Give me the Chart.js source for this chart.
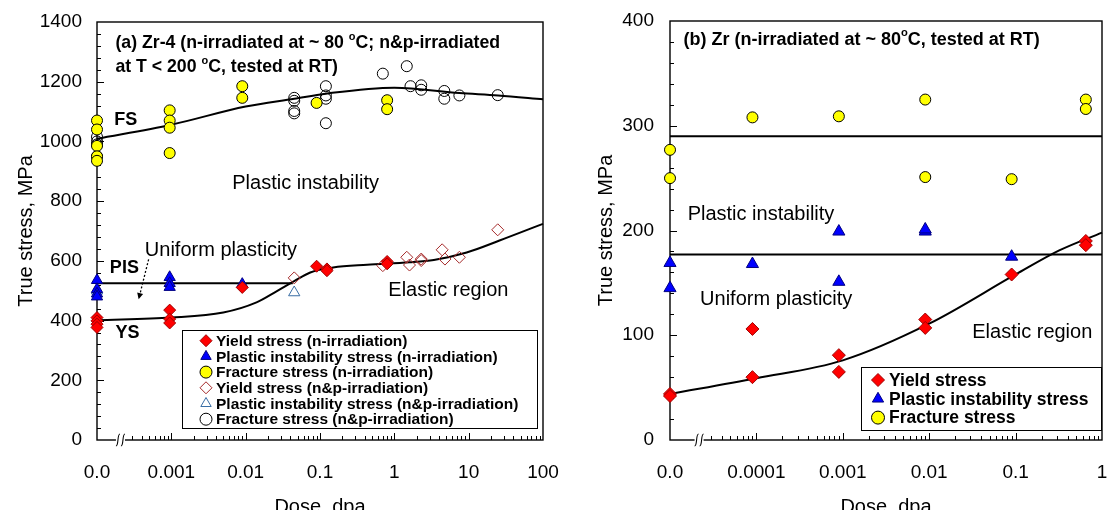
<!DOCTYPE html>
<html>
<head>
<meta charset="utf-8">
<script src="https://cdn.jsdelivr.net/npm/chart.js@4.4.1/dist/chart.umd.min.js"></script>
<style>
  html, body { margin: 0; padding: 0; background: #fff; }
  #wrap { position: relative; width: 1110px; height: 510px; overflow: hidden; }
  #chartA { position: absolute; left: 0; top: 0; }
  #chartB { position: absolute; left: 560px; top: 0; }
</style>
</head>
<body>
<div id="wrap">
  <canvas id="chartA" width="560" height="510"></canvas>
  <canvas id="chartB" width="550" height="510"></canvas>
</div>
<script>
const FONT = "'Liberation Sans', Arial, Helvetica, sans-serif";

// ---------- panel (a): Zr-4 ----------
// dose 0 is plotted at the "0.0" position of the broken log axis
const aZeroDose = 0.0001;
const aTickValues = [0.0001, 0.001, 0.01, 0.1, 1, 10, 100];
const aTickLabels = ['0.0', '0.001', '0.01', '0.1', '1', '10', '100'];

const aYsNDose = [0, 0, 0, 0, 0.00095, 0.00095, 0.00095, 0.009, 0.09, 0.124, 0.124, 0.8, 0.8];
const aYsNStress = [410, 399, 388, 377, 435, 405, 392, 511, 582, 573, 567, 598, 590];

const aPisNDose = [0, 0, 0, 0, 0.00095, 0.00095, 0.00095, 0.009];
const aPisNStress = [535, 505, 490, 480, 545, 525, 512, 522];

const aFsNDose = [0, 0, 0, 0, 0, 0.00095, 0.00095, 0.00095, 0.00095, 0.009, 0.009, 0.09, 0.8, 0.8];
const aFsNStress = [1070, 1040, 985, 950, 935, 1104, 1070, 1046, 961, 1185, 1146, 1129, 1138, 1108];

const aYsNPDose = [0.045, 0.7, 1.47, 1.6, 2.3, 2.3, 4.4, 4.8, 7.5, 24.6];
const aYsNPStress = [543, 584, 612, 586, 606, 601, 637, 606, 612, 704];

const aPisNPDose = [0, 0.045];
const aPisNPStress = [500, 494];

const aFsNPDose = [0, 0, 0, 0, 0.045, 0.045, 0.045, 0.045, 0.12, 0.12, 0.12, 0.12, 0.7, 1.47, 1.65, 2.3, 2.3, 4.7, 4.7, 7.5, 24.6];
const aFsNPStress = [1015, 1000, 990, 950, 1146, 1136, 1102, 1094, 1185, 1154, 1143, 1061, 1227, 1252, 1185, 1188, 1173, 1169, 1143, 1154, 1155];

// fitted curves
const aFsFitDose = [0.0001, 0.001, 0.01, 0.045, 0.12, 1, 7.5, 25, 100];
const aFsFitStress = [1009, 1056, 1117, 1143, 1160, 1180, 1162, 1154, 1141];
const aYsFitDose = [0.0001, 0.001, 0.005, 0.014, 0.026, 0.045, 0.074, 0.15, 0.43, 1.6, 3.4, 9.4, 26, 100];
const aYsFitStress = [401, 410, 427, 461, 498, 532, 561, 578, 587, 595, 603, 628, 668, 724];
const aPisFitDose = [0.0001, 0.043];
const aPisFitStress = [525, 525];

// ---------- panel (b): Zr ----------
const bZeroDose = 0.00001;
const bTickValues = [0.00001, 0.0001, 0.001, 0.01, 0.1, 1];
const bTickLabels = ['0.0', '0.0001', '0.001', '0.01', '0.1', '1'];

const bYsDose = [0, 0, 0.00009, 0.00009, 0.0009, 0.0009, 0.009, 0.009, 0.09, 0.65, 0.65];
const bYsStress = [44, 42, 106, 60, 81, 65, 115, 107, 158, 190, 186];

const bPisDose = [0, 0, 0.00009, 0.0009, 0.0009, 0.009, 0.009, 0.09];
const bPisStress = [169, 145, 168, 199, 151, 199, 201, 175];

const bFsDose = [0, 0, 0.00009, 0.0009, 0.009, 0.009, 0.09, 0.65, 0.65];
const bFsStress = [277, 250, 308, 309, 325, 251, 249, 325, 316];

const bYsFitDose = [0.00001, 0.0001, 0.001, 0.01, 0.1, 0.32, 1];
const bYsFitStress = [44, 59, 76, 111, 158, 181, 198];
const bFsFitDose = [0.00001, 1];
const bFsFitStress = [290, 290];
const bPisFitDose = [0.00001, 1];
const bPisFitStress = [177, 177];

function pts(doses, stresses, zero) {
  return doses.map((d, i) => ({ x: d === 0 ? zero : d, y: stresses[i] }));
}

function marks(label, data, style, radius, fill, stroke) {
  return {
    label, data, showLine: false, clip: false,
    pointStyle: style, pointRadius: radius, pointHoverRadius: radius,
    backgroundColor: fill, borderColor: stroke, pointBorderWidth: 1
  };
}

function curve(data) {
  return {
    data, showLine: true, clip: false, pointRadius: 0,
    borderColor: '#000', borderWidth: 2, fill: false,
    cubicInterpolationMode: 'monotone', legendSkip: true
  };
}

function markerPath(ctx, style, x, y, r) {
  ctx.beginPath();
  if (style === 'circle') {
    ctx.arc(x, y, r, 0, Math.PI * 2);
  } else if (style === 'rectRot') {
    ctx.moveTo(x, y - r); ctx.lineTo(x + r, y); ctx.lineTo(x, y + r); ctx.lineTo(x - r, y); ctx.closePath();
  } else {
    const s = Math.sin(Math.PI / 3) * r;
    ctx.moveTo(x, y - r); ctx.lineTo(x + s, y + r / 2); ctx.lineTo(x - s, y + r / 2); ctx.closePath();
  }
}

function drawRuns(ctx, runs, x, y, size, bold) {
  let cx = x;
  runs.forEach(([t, sup]) => {
    const fs = sup ? size * 0.62 : size;
    ctx.font = (bold ? 'bold ' : '') + fs + 'px ' + FONT;
    ctx.fillText(t, cx, sup ? y - size * 0.36 : y);
    cx += ctx.measureText(t).width;
  });
}

function noPad(scale) {
  scale.paddingLeft = 0;
  scale.paddingRight = 0;
  scale.paddingTop = 0;
  scale.paddingBottom = 0;
}

function decor(cfg) {
  return {
    id: 'decor',
    beforeDatasetsDraw(chart) {
      const { ctx, chartArea: a, scales: { x, y } } = chart;
      ctx.save();
      ctx.strokeStyle = '#000';
      ctx.lineWidth = 1.4;
      ctx.strokeRect(a.left, a.top, a.right - a.left, a.bottom - a.top);
      ctx.lineWidth = 1;
      ctx.beginPath();
      for (let v = y.min + cfg.yMinor; v < y.max; v += cfg.yMinor) {
        const py = Math.round(y.getPixelForValue(v)) + 0.5;
        const len = v % cfg.yMajor === 0 ? 7 : 4;
        ctx.moveTo(a.left, py); ctx.lineTo(a.left + len, py);
      }
      const breakX = x.getPixelForValue(cfg.breakDose);
      const e0 = Math.round(Math.log10(x.min));
      const e1 = Math.round(Math.log10(x.max));
      for (let e = e0; e <= e1; e++) {
        for (let m = 1; m < 10; m++) {
          const v = m * Math.pow(10, e);
          if (v > x.max * 1.0001) break;
          const px = Math.round(x.getPixelForValue(v)) + 0.5;
          if (px < breakX + 5 || px > a.right - 1) continue;
          const len = m === 1 ? 7 : 4;
          ctx.moveTo(px, a.bottom); ctx.lineTo(px, a.bottom - len);
        }
      }
      ctx.stroke();
      // axis break
      ctx.fillStyle = '#fff';
      ctx.fillRect(breakX - 5, a.bottom - 2, 9, 4);
      ctx.lineWidth = 1.1;
      [-3, 2].forEach((dx) => {
        const bx = breakX + dx;
        ctx.beginPath();
        ctx.moveTo(bx - 2, a.bottom + 6);
        ctx.bezierCurveTo(bx + 1, a.bottom + 6, bx - 1, a.bottom - 6, bx + 2, a.bottom - 6);
        ctx.stroke();
      });
      ctx.restore();
    },
    afterDatasetsDraw(chart) {
      const { ctx, scales: { x, y }, chartArea: a } = chart;
      ctx.save();
      ctx.fillStyle = '#000';
      ctx.textBaseline = 'middle';
      ctx.textAlign = 'left';
      cfg.texts.forEach((t) => {
        drawRuns(ctx, t.runs, x.getPixelForValue(t.dose), y.getPixelForValue(t.stress), t.size, t.bold);
      });
      if (cfg.arrow) {
        const [d0, s0, d1, s1] = cfg.arrow;
        const x0 = x.getPixelForValue(d0), y0 = y.getPixelForValue(s0);
        const x1 = x.getPixelForValue(d1), y1 = y.getPixelForValue(s1);
        const ang = Math.atan2(y1 - y0, x1 - x0);
        ctx.strokeStyle = '#000';
        ctx.lineWidth = 1.3;
        ctx.setLineDash([2, 2]);
        ctx.beginPath();
        ctx.moveTo(x0, y0);
        ctx.lineTo(x1 - Math.cos(ang) * 5, y1 - Math.sin(ang) * 5);
        ctx.stroke();
        ctx.setLineDash([]);
        ctx.beginPath();
        ctx.moveTo(x1, y1);
        ctx.lineTo(x1 - Math.cos(ang - 0.45) * 7, y1 - Math.sin(ang - 0.45) * 7);
        ctx.lineTo(x1 - Math.cos(ang + 0.45) * 7, y1 - Math.sin(ang + 0.45) * 7);
        ctx.closePath();
        ctx.fillStyle = '#000';
        ctx.fill();
      }
      // legend
      const L = cfg.legend;
      ctx.fillStyle = '#fff';
      ctx.fillRect(L.x0, L.y0, L.x1 - L.x0, L.y1 - L.y0);
      ctx.strokeStyle = '#000';
      ctx.lineWidth = 1;
      ctx.strokeRect(L.x0 + 0.5, L.y0 + 0.5, L.x1 - L.x0, L.y1 - L.y0);
      ctx.font = 'bold ' + L.font + 'px ' + FONT;
      let row = 0;
      chart.data.datasets.forEach((ds) => {
        if (ds.legendSkip) return;
        const cy = L.firstY + row * L.rowH;
        markerPath(ctx, ds.pointStyle, L.markerX, cy, L.markerR);
        if (ds.backgroundColor !== 'transparent') { ctx.fillStyle = ds.backgroundColor; ctx.fill(); }
        ctx.strokeStyle = ds.borderColor;
        ctx.lineWidth = 1;
        ctx.stroke();
        ctx.fillStyle = '#000';
        ctx.fillText(ds.label, L.textX, cy + 1);
        row++;
      });
      // axis titles
      ctx.textBaseline = 'alphabetic';
      ctx.textAlign = 'center';
      ctx.font = '20px ' + FONT;
      ctx.fillText('Dose, dpa', (a.left + a.right) / 2, cfg.xTitleY);
      ctx.translate(cfg.yTitleX, (a.top + a.bottom) / 2);
      ctx.rotate(-Math.PI / 2);
      ctx.fillText('True stress, MPa', 0, 0);
      ctx.restore();
    }
  };
}

function makeChart(id, datasets, xr, yr, pad, cfg) {
  return new Chart(document.getElementById(id), {
    type: 'scatter',
    data: { datasets },
    options: {
      responsive: false,
      animation: false,
      events: [],
      layout: { padding: pad },
      plugins: { legend: { display: false }, tooltip: { enabled: false } },
      scales: {
        x: {
          type: 'logarithmic', min: xr.min, max: xr.max,
          grid: { display: false, drawTicks: false }, border: { display: false },
          afterBuildTicks: (scale) => { scale.ticks = xr.ticks.map((v) => ({ value: v })); },
          afterFit: (scale) => { scale.height = xr.height; noPad(scale); },
          ticks: {
            autoSkip: false, maxRotation: 0, padding: 21, color: '#000',
            font: { family: FONT, size: 19 },
            callback: (v, i) => xr.labels[i]
          }
        },
        y: {
          min: yr.min, max: yr.max,
          grid: { display: false, drawTicks: false }, border: { display: false },
          afterFit: (scale) => { scale.width = yr.width; noPad(scale); },
          ticks: {
            stepSize: yr.step, padding: yr.pad, color: '#000',
            font: { family: FONT, size: 19 },
            callback: (v) => String(v)
          }
        }
      }
    },
    plugins: [decor(cfg)]
  });
}

// ---------- build panel (a) ----------
makeChart('chartA', [
  marks('Yield stress (n-irradiation)', pts(aYsNDose, aYsNStress, aZeroDose), 'rectRot', 6, '#ff0000', '#a00000'),
  marks('Plastic instability stress (n-irradiation)', pts(aPisNDose, aPisNStress, aZeroDose), 'triangle', 6.5, '#0000ff', '#000080'),
  marks('Fracture stress (n-irradiation)', pts(aFsNDose, aFsNStress, aZeroDose), 'circle', 5.5, '#ffff00', '#000'),
  marks('Yield stress (n&p-irradiation)', pts(aYsNPDose, aYsNPStress, aZeroDose), 'rectRot', 6, 'transparent', '#a52a2a'),
  marks('Plastic instability stress (n&p-irradiation)', pts(aPisNPDose, aPisNPStress, aZeroDose), 'triangle', 6.5, 'transparent', '#3a6ea5'),
  marks('Fracture stress (n&p-irradiation)', pts(aFsNPDose, aFsNPStress, aZeroDose), 'circle', 5.5, 'transparent', '#000'),
  curve(pts(aFsFitDose, aFsFitStress, aZeroDose)),
  curve(pts(aYsFitDose, aYsFitStress, aZeroDose)),
  curve(pts(aPisFitDose, aPisFitStress, aZeroDose))
], { min: 0.0001, max: 100, ticks: aTickValues, labels: aTickLabels, height: 70 },
   { min: 0, max: 1400, step: 200, width: 97, pad: 15 },
   { top: 22, right: 17, left: 0, bottom: 0 },
   {
     yMajor: 200, yMinor: 40, breakDose: 0.00021,
     texts: [
       { runs: [['(a) Zr-4 (n-irradiated at ~ 80 ', false], ['o', true], ['C; n&p-irradiated', false]], dose: 0.000177, stress: 1328, size: 17.7, bold: true },
       { runs: [['at T < 200 ', false], ['o', true], ['C, tested at RT)', false]], dose: 0.000177, stress: 1248, size: 17.7, bold: true },
       { runs: [['FS', false]], dose: 0.00017, stress: 1072, size: 18, bold: true },
       { runs: [['Plastic instability', false]], dose: 0.0066, stress: 860, size: 20, bold: false },
       { runs: [['Uniform plasticity', false]], dose: 0.00044, stress: 634, size: 20, bold: false },
       { runs: [['PIS', false]], dose: 0.000149, stress: 575, size: 18, bold: true },
       { runs: [['YS', false]], dose: 0.000177, stress: 357, size: 18, bold: true },
       { runs: [['Elastic region', false]], dose: 0.83, stress: 502, size: 20, bold: false }
     ],
     arrow: [0.000495, 605, 0.000363, 471],
     legend: { x0: 182, y0: 330, x1: 537, y1: 428, font: 15.5, rowH: 15.7, firstY: 340.7, markerX: 206, markerR: 6, textX: 216 },
     xTitleY: 513, yTitleX: 32
   });

// ---------- build panel (b) ----------
makeChart('chartB', [
  marks('Yield stress', pts(bYsDose, bYsStress, bZeroDose), 'rectRot', 6.5, '#ff0000', '#a00000'),
  marks('Plastic instability stress', pts(bPisDose, bPisStress, bZeroDose), 'triangle', 7, '#0000ff', '#000080'),
  marks('Fracture stress', pts(bFsDose, bFsStress, bZeroDose), 'circle', 5.5, '#ffff00', '#000'),
  curve(pts(bYsFitDose, bYsFitStress, bZeroDose)),
  curve(pts(bFsFitDose, bFsFitStress, bZeroDose)),
  curve(pts(bPisFitDose, bPisFitStress, bZeroDose))
], { min: 0.00001, max: 1, ticks: bTickValues, labels: bTickLabels, height: 70 },
   { min: 0, max: 400, step: 100, width: 110, pad: 16 },
   { top: 21, right: 7, left: 0, bottom: 0 },
   {
     yMajor: 100, yMinor: 20, breakDose: 0.000022,
     texts: [
       { runs: [['(b) Zr (n-irradiated at ~ 80', false], ['o', true], ['C, tested at RT)', false]], dose: 0.0000143, stress: 382, size: 18, bold: true },
       { runs: [['Plastic instability', false]], dose: 0.000016, stress: 215, size: 20, bold: false },
       { runs: [['Uniform plasticity', false]], dose: 0.0000223, stress: 134, size: 20, bold: false },
       { runs: [['Elastic region', false]], dose: 0.0315, stress: 102.6, size: 20, bold: false }
     ],
     arrow: null,
     legend: { x0: 301, y0: 367, x1: 541, y1: 430, font: 17.5, rowH: 18.8, firstY: 380, markerX: 318, markerR: 6.5, textX: 329 },
     xTitleY: 513, yTitleX: 52
   });
</script>
</body>
</html>
